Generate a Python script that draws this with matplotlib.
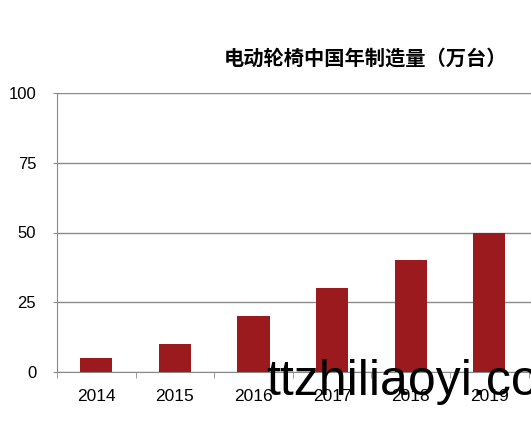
import matplotlib.pyplot as plt
import numpy as np

years = ['2014', '2015', '2016', '2017', '2018', '2019']
output = [5, 10, 20, 30, 40, 50]  # 万台
yticks = [0, 25, 50, 75, 100]

plt.rcParams['font.family'] = ['Liberation Sans', 'DejaVu Sans']

fig = plt.figure(figsize=(5.31, 4.24), dpi=100)
ax = fig.add_axes([57 / 531, 52 / 424, 474 / 531, 279 / 424])

x = np.arange(len(years))
ax.bar(x, output, width=0.41, color='#9a1a1e', zorder=3)

ax.set_xlim(-0.5, -0.5 + 474 / 78.6)
ax.set_ylim(0, 100)
ax.set_yticks(yticks)
ax.set_yticklabels([str(v) for v in yticks], fontsize=12)
ax.set_xticks(x)
ax.set_xticklabels(years, fontsize=12.5)
ax.set_xticks(np.arange(len(years) + 1) - 0.5, minor=True)

ax.grid(axis='y', color='#8a8a8a', linewidth=1, zorder=1)
for s in ['top', 'right']:
    ax.spines[s].set_visible(False)
for s in ['left', 'bottom']:
    ax.spines[s].set_color('#8a8a8a')
ax.tick_params(axis='y', length=3, color='#8a8a8a', pad=12)
ax.tick_params(axis='x', which='major', length=0, pad=12)
ax.tick_params(axis='x', which='minor', length=4, color='#8a8a8a')

fig.text(366 / 531, 1 - 58 / 424, '电动轮椅中国年制造量（万台）',
         family=['Noto Sans CJK SC', 'DejaVu Sans'], fontweight='bold',
         fontsize=14.6, ha='center', va='center')

# watermark
fig.text(266 / 531, 1 - 395 / 424, 'ttzhiliaoyi.com', fontsize=36,
         color='black', ha='left', va='baseline')

fig.savefig('out.png', dpi=100)
